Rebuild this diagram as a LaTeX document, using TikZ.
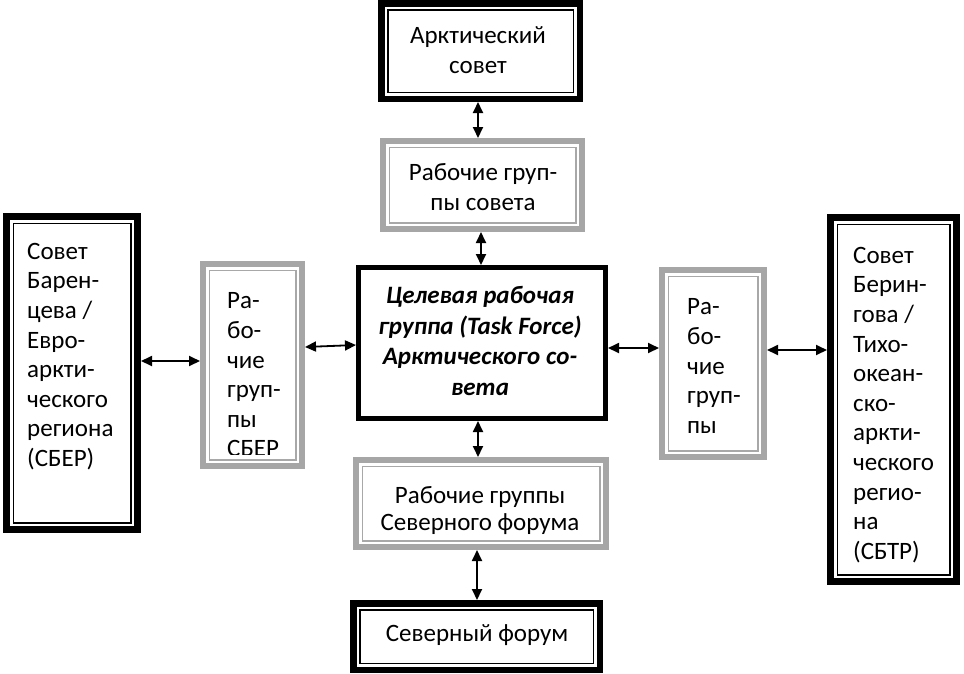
\documentclass[tikz,border=0pt]{standalone}
\usepackage{fontspec}
\setmainfont{Carlito}
\usetikzlibrary{arrows.meta}
\definecolor{gryout}{HTML}{A6A6A6}
\definecolor{gryin}{HTML}{A8A8A8}
\tikzset{
  blkout/.style={draw=black, fill=white, inner sep=0pt},
  blkin/.style={draw=black, line width=1.5pt},
  gryouter/.style={draw=gryout, fill=white, inner sep=0pt},
  gryinner/.style={draw=gryin, line width=1.5pt},
  txt/.style={inner sep=0pt, font=\fontsize{25}{29.6}\selectfont},
  arr/.style={{Triangle[width=10pt,length=11pt]}-{Triangle[width=10pt,length=11pt]}, line width=1.8pt},
}
% name, x1, y1, x2, y2, outer style, inner style, outer line width, inner offset
\newcommand\dbox[9]{%
  \node[#6, line width=#8pt, minimum width={#4-#2-#8}, minimum height={#5-#3-#8}] (#1) at ({(#2+#4)/2},{(#3+#5)/2}) {};
  \draw[#7] ([shift={(#9pt,-#9pt)}]#1.north west) rectangle ([shift={(-#9pt,#9pt)}]#1.south east);
}
\begin{document}
\begin{tikzpicture}[x=1pt,y=-1pt]
\useasboundingbox (0,0) rectangle (964,673);
\dbox{arctic}{378}{0}{583}{102}{blkout}{blkin}{6.5}{9.75}
\dbox{wgc}{380}{138}{585}{232}{gryouter}{gryinner}{6}{9.25}
\dbox{sber}{3}{213}{141}{533}{blkout}{blkin}{7}{10.25}
\dbox{wgsber}{200}{261}{305}{469}{gryouter}{gryinner}{6}{9.25}
\node[draw=black, line width=5pt, fill=white, minimum width={608-356-5}, minimum height={421-265-5}] (tf) at (482,343) {};
\dbox{wgr}{659}{267}{767}{460}{gryouter}{gryinner}{6}{9.25}
\dbox{sbtr}{827}{214}{960}{585}{blkout}{blkin}{7}{10.25}
\dbox{wgnf}{353}{457}{609}{550}{gryouter}{gryinner}{6}{9.25}
\dbox{nf}{350}{600}{603}{673}{blkout}{blkin}{6.5}{9.75}

\node[txt, align=center] (tarctic) at (478,50) {Арктический\\совет};
\node[txt, align=center] (twgc) at (483,187) {Рабочие груп-\\пы совета};
\node[txt, align=left, anchor=west] (tsber) at (27,356.5) {Совет\\Барен-\\цева /\\Евро-\\аркти-\\ческого\\региона\\(СБЕР)};
\begin{scope}
  \clip (200,261) rectangle (305,454);
  \node[txt, align=left, anchor=west] (twgsber) at (227,375) {Ра-\\бо-\\чие\\груп-\\пы\\СБЕР};
\end{scope}
\node[txt, align=center, font=\fontsize{25}{30.7}\selectfont\bfseries\itshape] (ttf) at (480,341) {Целевая рабочая\\группа (Task Force)\\Арктического со-\\вета};
\node[txt, align=left, anchor=west] (twgr) at (687,366) {Ра-\\бо-\\чие\\груп-\\пы};
\node[txt, align=left, anchor=west] (tsbtr) at (853,405) {Совет\\Берин-\\гова /\\Тихо-\\океан-\\ско-\\аркти-\\ческого\\регио-\\на\\(СБТР)};
\node[txt, align=center, font=\fontsize{25}{27}\selectfont] (twgnf) at (480,510.5) {Рабочие группы\\Северного форума};
\node[txt] (tnf) at (477,635) {Северный форум};

\draw[arr] ([xshift=-2.5pt]arctic.south) -- ([xshift=-4.5pt]wgc.north);
\draw[arr] ([xshift=-1.5pt]wgc.south) -- ([xshift=-1pt]tf.north);
\draw[arr] ([xshift=-4pt]tf.south) -- ([xshift=-3pt]wgnf.north);
\draw[arr] ([xshift=-4pt]wgnf.south) -- ([xshift=0.5pt]nf.north);
\draw[arr] ([yshift=12pt]sber.east) -- ([yshift=4pt]wgsber.west);
\draw[arr] ([yshift=18pt]wgsber.east) -- ([yshift=-2pt]tf.west);
\draw[arr] ([yshift=-5pt]tf.east) -- ([yshift=15.5pt]wgr.west);
\draw[arr] ([yshift=13.5pt]wgr.east) -- ([yshift=49.5pt]sbtr.west);
\end{tikzpicture}
\end{document}
